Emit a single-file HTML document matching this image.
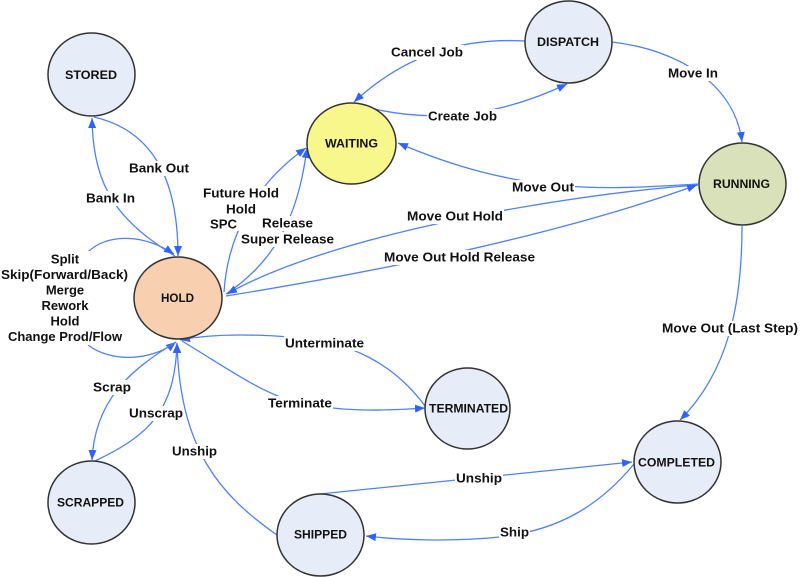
<!DOCTYPE html>
<html><head><meta charset="utf-8"><style>
html,body{margin:0;padding:0;background:#fff;}
svg{display:block;}
text{font-family:"Liberation Sans",Arial,sans-serif;font-weight:bold;fill:#111;}
.e{font-size:13px;}
.n{font-size:12px;}
</style></head><body>
<svg width="800" height="577" viewBox="0 0 800 577" xmlns="http://www.w3.org/2000/svg">
<defs>
<marker id="a" markerUnits="userSpaceOnUse" markerWidth="12" markerHeight="10" refX="10" refY="4" orient="auto">
<path d="M0,0 L10,4 L0,8 Z" fill="#2f62ff"/>
</marker>
</defs>
<g fill="none" stroke="#4f80ff" stroke-width="1.3" marker-end="url(#a)">
<path d="M175,256 C120,222 93,190 92,118"/>
<path d="M94,117 C150,130 178,175 178,256"/>
<path d="M88,252 C105,235 140,232 174,254"/>
<path d="M88,345 C110,362 150,362 176,342"/>
<path d="M224,292 C228,230 260,180 306,148"/>
<path d="M226,294 C285,255 300,200 307,148"/>
<path d="M698,185 C560,195 330,235 227,294"/>
<path d="M226,296 C450,260 600,220 697,185"/>
<path d="M698,184 C600,190 520,195 398,143"/>
<path d="M525,41 C470,38 410,50 354,102"/>
<path d="M355,104 Q460,135 567,84"/>
<path d="M612,42 C680,50 735,85 742,142"/>
<path d="M742,226 C742,300 730,370 680,420"/>
<path d="M320,494 Q480,478 632,462"/>
<path d="M634,464 C600,505 560,530 500,537 C450,542 400,540 366,536"/>
<path d="M182,341 C230,370 260,392 295,402 C340,412 380,411 425,408"/>
<path d="M425,406 C395,365 350,340 290,337 C250,334 210,334 180,340"/>
<path d="M176,342 C130,370 95,400 92,460"/>
<path d="M95,461 C150,435 175,410 177,343"/>
<path d="M277,535 C220,495 180,450 177,343"/>
</g>
<g fill="#fff">
<rect x="128" y="161" width="62" height="15"/>
<rect x="85" y="191" width="51" height="15"/>
<rect x="202" y="186" width="78" height="45"/>
<rect x="261" y="216" width="53" height="15"/>
<rect x="240" y="232" width="95" height="15"/>
<rect x="406" y="209" width="98" height="15"/>
<rect x="383" y="250" width="153" height="15"/>
<rect x="511" y="180" width="64" height="15"/>
<rect x="390" y="45" width="74" height="15"/>
<rect x="427" y="109" width="71" height="15"/>
<rect x="667" y="66" width="52" height="15"/>
<rect x="661" y="321" width="138" height="15"/>
<rect x="284" y="336" width="81" height="15"/>
<rect x="267" y="396" width="66" height="15"/>
<rect x="455" y="471" width="48" height="15"/>
<rect x="499" y="525" width="31" height="15"/>
<rect x="92" y="380" width="40" height="15"/>
<rect x="128" y="406" width="56" height="15"/>
<rect x="171" y="444" width="47" height="15"/>
<rect x="0" y="251" width="130" height="94"/>
</g>
<g stroke="#333" stroke-width="1.5">
<ellipse cx="91.5" cy="74.5" rx="43.5" ry="41.5" fill="#e6ecf8"/>
<ellipse cx="568.5" cy="42" rx="43.5" ry="41" fill="#e6ecf8"/>
<ellipse cx="351.5" cy="143.5" rx="44.5" ry="40.5" fill="#f8f78c"/>
<ellipse cx="742.5" cy="184" rx="43.5" ry="41" fill="#d8e1b9"/>
<ellipse cx="178" cy="298" rx="44" ry="41" fill="#f8d0b0"/>
<ellipse cx="91.5" cy="502.5" rx="43.5" ry="41.5" fill="#e6ecf8"/>
<ellipse cx="467.5" cy="408.5" rx="42.5" ry="40.5" fill="#e6ecf8"/>
<ellipse cx="320.5" cy="535" rx="43.5" ry="41" fill="#e6ecf8"/>
<ellipse cx="677.5" cy="462" rx="43.5" ry="41" fill="#e6ecf8"/>
</g>
<g class="n" text-anchor="middle">
<text x="91" y="79" font-size="12" textLength="52" lengthAdjust="spacingAndGlyphs">STORED</text>
<text x="568" y="46" font-size="12" textLength="62" lengthAdjust="spacingAndGlyphs">DISPATCH</text>
<text x="351.5" y="147.5" font-size="12" textLength="53" lengthAdjust="spacingAndGlyphs">WAITING</text>
<text x="741.5" y="188" font-size="12" textLength="57" lengthAdjust="spacingAndGlyphs">RUNNING</text>
<text x="177.5" y="302" font-size="12" textLength="33" lengthAdjust="spacingAndGlyphs">HOLD</text>
<text x="90.5" y="506.5" font-size="12" textLength="67" lengthAdjust="spacingAndGlyphs">SCRAPPED</text>
<text x="468.5" y="412.5" font-size="12" textLength="79" lengthAdjust="spacingAndGlyphs">TERMINATED</text>
<text x="320.5" y="538.5" font-size="12" textLength="53" lengthAdjust="spacingAndGlyphs">SHIPPED</text>
<text x="676.5" y="466.5" font-size="12" textLength="77" lengthAdjust="spacingAndGlyphs">COMPLETED</text>
</g>
<g class="e" text-anchor="middle" font-size="13">
<text x="159" y="172.5" textLength="60" lengthAdjust="spacingAndGlyphs">Bank Out</text>
<text x="110.5" y="202.5" textLength="49" lengthAdjust="spacingAndGlyphs">Bank In</text>
<text x="241" y="197.5" textLength="76" lengthAdjust="spacingAndGlyphs">Future Hold</text>
<text x="241" y="213.5" textLength="30" lengthAdjust="spacingAndGlyphs">Hold</text>
<text x="223.5" y="228.5" textLength="27" lengthAdjust="spacingAndGlyphs">SPC</text>
<text x="287.5" y="227.5" textLength="51" lengthAdjust="spacingAndGlyphs">Release</text>
<text x="287.5" y="243.5" textLength="93" lengthAdjust="spacingAndGlyphs">Super Release</text>
<text x="455" y="220.5" textLength="96" lengthAdjust="spacingAndGlyphs">Move Out Hold</text>
<text x="459.5" y="261.5" textLength="151" lengthAdjust="spacingAndGlyphs">Move Out Hold Release</text>
<text x="543" y="191.5" textLength="62" lengthAdjust="spacingAndGlyphs">Move Out</text>
<text x="427" y="56.5" textLength="72" lengthAdjust="spacingAndGlyphs">Cancel Job</text>
<text x="462.5" y="120.5" textLength="69" lengthAdjust="spacingAndGlyphs">Create Job</text>
<text x="693" y="77.5" textLength="50" lengthAdjust="spacingAndGlyphs">Move In</text>
<text x="730" y="332.5" textLength="136" lengthAdjust="spacingAndGlyphs">Move Out (Last Step)</text>
<text x="324.5" y="347.5" textLength="79" lengthAdjust="spacingAndGlyphs">Unterminate</text>
<text x="300" y="407.5" textLength="64" lengthAdjust="spacingAndGlyphs">Terminate</text>
<text x="479" y="482.5" textLength="46" lengthAdjust="spacingAndGlyphs">Unship</text>
<text x="514.5" y="536.5" textLength="29" lengthAdjust="spacingAndGlyphs">Ship</text>
<text x="112" y="391.5" textLength="38" lengthAdjust="spacingAndGlyphs">Scrap</text>
<text x="156" y="417.5" textLength="54" lengthAdjust="spacingAndGlyphs">Unscrap</text>
<text x="194.5" y="455.5" textLength="45" lengthAdjust="spacingAndGlyphs">Unship</text>
<text x="65" y="263.5">Split</text>
<text x="64.5" y="279" textLength="127" lengthAdjust="spacingAndGlyphs">Skip(Forward/Back)</text>
<text x="65" y="294.5">Merge</text>
<text x="65" y="310">Rework</text>
<text x="65" y="325.5">Hold</text>
<text x="65" y="341">Change Prod/Flow</text>
</g>
</svg>
</body></html>
